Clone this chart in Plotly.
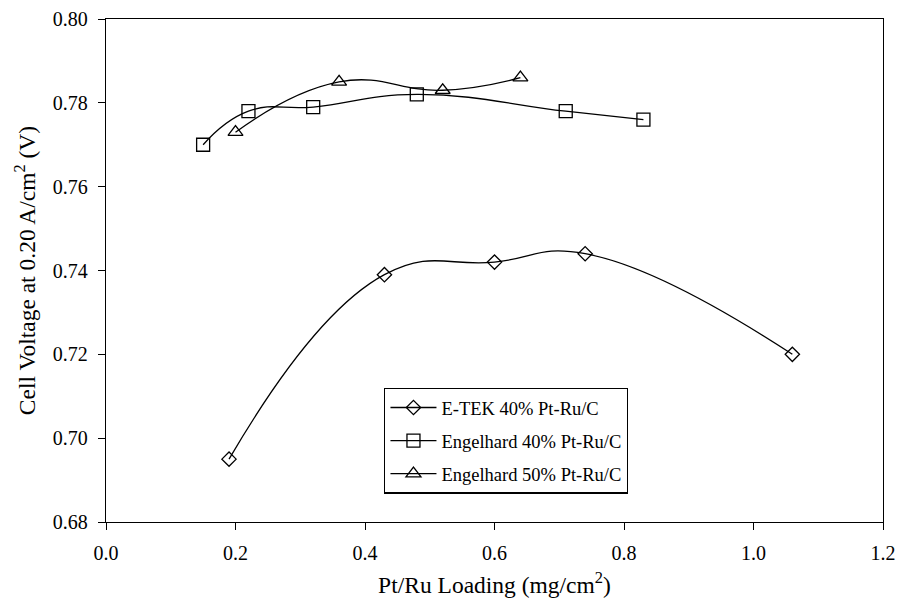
import plotly.graph_objects as go

etek_x = [0.19, 0.43, 0.60, 0.74, 1.06]
etek_y = [0.695, 0.739, 0.742, 0.744, 0.720]
eng40_x = [0.15, 0.22, 0.32, 0.48, 0.71, 0.83]
eng40_y = [0.770, 0.778, 0.779, 0.782, 0.778, 0.776]
eng50_x = [0.20, 0.36, 0.52, 0.64]
eng50_y = [0.773, 0.785, 0.783, 0.786]

series = [
    ("E-TEK 40% Pt-Ru/C", etek_x, etek_y, "diamond-open", 11),
    ("Engelhard 40% Pt-Ru/C", eng40_x, eng40_y, "square-open", 13),
    ("Engelhard 50% Pt-Ru/C", eng50_x, eng50_y, "triangle-up-open", 13),
]

fig = go.Figure()
for i, (name, xs, ys, sym, sz) in enumerate(series):
    fig.add_trace(go.Scatter(
        x=xs, y=ys, name=name, mode="lines+markers", legendgroup=f"g{i}",
        line=dict(color="black", width=1.3, shape="spline", smoothing=1.3),
        marker=dict(symbol=sym, size=sz, color="black", line=dict(width=1.3, color="black")),
    ))

font = "Liberation Serif, Times New Roman, serif"
fig.update_layout(
    width=897, height=598,
    margin=dict(l=106, r=14, t=19, b=76),
    paper_bgcolor="white", plot_bgcolor="white",
    font=dict(family=font, color="black", size=20),
    showlegend=True,
    legend=dict(
        x=0.358, y=0.267, xanchor="left", yanchor="top",
        bordercolor="black", borderwidth=1.3, bgcolor="white",
        font=dict(family=font, size=18.5, color="black"),
        tracegroupgap=6, itemwidth=46,
    ),
    xaxis=dict(
        range=[0, 1.2], tickvals=[0, 0.2, 0.4, 0.6, 0.8, 1.0, 1.2],
        ticktext=["0.0", "0.2", "0.4", "0.6", "0.8", "1.0", "1.2"],
        showgrid=False, zeroline=False, showline=True, linecolor="black", linewidth=1.3,
        mirror=True, ticks="outside", ticklen=7, tickcolor="black", tickwidth=1.3,
        ticklabelstandoff=6, automargin=False, ticklabeloverflow="allow",
        title=dict(text="Pt/Ru Loading (mg/cm<sup>2</sup>)", font=dict(size=23.5), standoff=14),
        tickfont=dict(size=20),
    ),
    yaxis=dict(
        range=[0.68, 0.80], tickvals=[0.68, 0.70, 0.72, 0.74, 0.76, 0.78, 0.80],
        ticktext=["0.68", "0.70", "0.72", "0.74", "0.76", "0.78", "0.80"],
        showgrid=False, zeroline=False, showline=True, linecolor="black", linewidth=1.3,
        mirror=True, ticks="outside", ticklen=7, tickcolor="black", tickwidth=1.3,
        ticklabelstandoff=6, automargin=False,
        title=dict(text="Cell Voltage at 0.20 A/cm<sup>2</sup> (V)", font=dict(size=23.5), standoff=10),
        tickfont=dict(size=20),
    ),
)

fig.write_html(
    "out.html",
    config={"displayModeBar": False},
    post_script="document.body.style.margin='0';document.body.style.overflow='hidden';",
)
